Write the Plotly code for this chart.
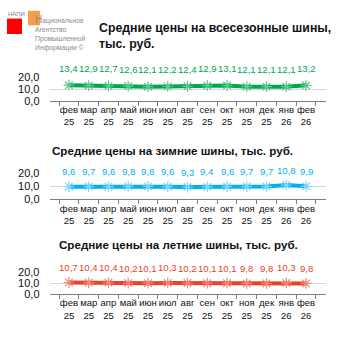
import plotly.graph_objects as go

months = ["фев", "мар", "апр", "май", "июн", "июл", "авг", "сен", "окт", "ноя", "дек", "янв", "фев"]
years = ["25", "25", "25", "25", "25", "25", "25", "25", "25", "25", "25", "26", "26"]
categories = [f"{m}<br>{y}" for m, y in zip(months, years)]

all_season = [13.4, 12.9, 12.7, 12.6, 12.1, 12.2, 12.4, 12.9, 13.1, 12.1, 12.1, 12.1, 13.2]
winter = [9.6, 9.7, 9.6, 9.8, 9.8, 9.6, 9.3, 9.4, 9.6, 9.7, 9.7, 10.8, 9.9]
summer = [10.7, 10.4, 10.4, 10.2, 10.1, 10.3, 10.2, 10.1, 10.1, 9.8, 9.8, 10.3, 9.8]

titles = ["Средние цены на всесезонные шины,<br>тыс. руб.",
          "Средние цены на зимние шины, тыс. руб.",
          "Средние цены на летние шины, тыс. руб."]
series = [all_season, winter, summer]
colors = ["#00A650", "#00B0F0", "#E8412C"]
marker_colors = ["#5CC98A", "#7FD6F7", "#F08878"]

FONT = "Liberation Sans, Arial"
H = 353.0
def py(px):
    return 1 - px / H

# pixel positions: (y of 20 gridline, y of 0 axis)
ydoms = [(74, 98), (173, 200), (276, 298)]
title_pos = [(97, 31), (50, 150), (57, 247)]
title_size = [12.3, 11.6, 11.6]
label_shift = [17, 15, 15]

fig = go.Figure()
annotations = []
for i, (vals, col, mcol) in enumerate(zip(series, colors, marker_colors)):
    ax = "" if i == 0 else str(i + 1)
    fig.add_trace(go.Scatter(
        x=categories, y=vals, mode="lines+markers",
        xaxis="x" + ax, yaxis="y" + ax,
        line=dict(color=col, width=4),
        marker=dict(symbol="asterisk-open", size=9, color=mcol,
                    line=dict(color=mcol, width=1.2)),
        showlegend=False, hoverinfo="skip"))
    for c, v in zip(categories, vals):
        annotations.append(dict(
            x=c, y=v, xref="x" + ax, yref="y" + ax,
            text=f"{v:.1f}".replace(".", ","), showarrow=False,
            yshift=label_shift[i], font=dict(size=9.6, color=col, family=FONT)))
    tx, ty = title_pos[i]
    annotations.append(dict(
        x=tx / H, y=py(ty), xref="paper", yref="paper", xanchor="left", yanchor="middle",
        text="<b>" + titles[i] + "</b>", showarrow=False, align="left",
        font=dict(size=title_size[i], color="#111111", family=FONT)))
    top, bot = ydoms[i]
    fig.update_layout(**{
        "xaxis" + ax: dict(domain=[49.5 / H, 325.5 / H], anchor="y" + ax,
                           type="category", tickson="boundaries", ticks="outside",
                           ticklen=4, tickcolor="#7F7F7F", showline=True,
                           linecolor="#7F7F7F", linewidth=1, showgrid=False,
                           tickangle=0,
                           tickfont=dict(size=9.5, color="#111111", family=FONT),
                           fixedrange=True),
        "yaxis" + ax: dict(domain=[py(bot), py(top)], anchor="x" + ax,
                           range=[0, 20], tickvals=[0, 10, 20],
                           ticktext=["0,0", "10,0", "20,0"], showgrid=True,
                           gridcolor="#D9D9D9", gridwidth=1, zeroline=False,
                           showline=False, ticks="", ticklabelstandoff=9,
                           tickfont=dict(size=11, color="#111111", family=FONT),
                           fixedrange=True),
    })

# logo
shapes = [
    dict(type="rect", xref="paper", yref="paper", x0=7 / H, x1=22 / H, y0=py(29), y1=py(13),
         fillcolor="#FF0000", line=dict(width=0)),
    dict(type="rect", xref="paper", yref="paper", x0=28 / H, x1=40 / H, y0=py(20), y1=py(5),
         fillcolor="rgba(245,140,40,0.85)", line=dict(width=0)),
]
annotations.append(dict(x=6 / H, y=py(8.5), xref="paper", yref="paper", xanchor="left",
                        yanchor="middle", text="НАПИ", showarrow=False,
                        font=dict(size=6, color="#6F7F99", family=FONT)))
annotations.append(dict(x=33 / H, y=py(28), xref="paper", yref="paper", xanchor="left",
                        yanchor="middle", showarrow=False, align="left",
                        text="<span style='font-size:10px'>Н</span>ациональное<br>Агентство<br>Промышленной<br>Информации ©",
                        font=dict(size=6.8, color="#8C8C8C", family=FONT)))

fig.update_layout(width=353, height=353, margin=dict(l=0, r=0, t=0, b=0),
                  paper_bgcolor="white", plot_bgcolor="white",
                  annotations=annotations, shapes=shapes)
fig.write_html("out.html", config={"displayModeBar": False})
